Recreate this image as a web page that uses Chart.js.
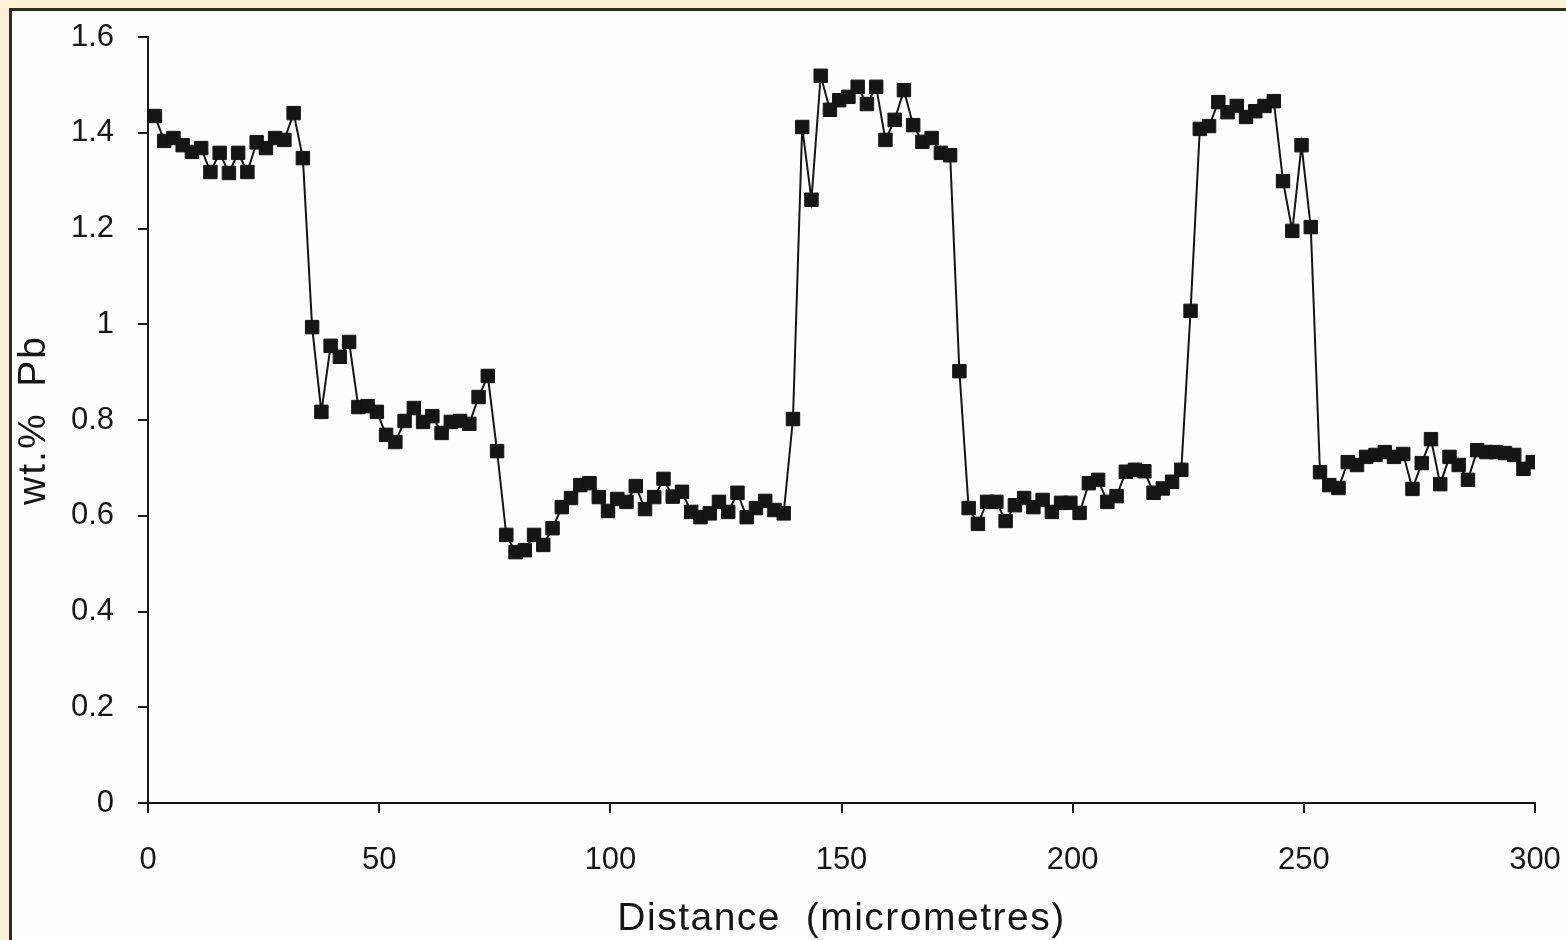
<!DOCTYPE html>
<html>
<head>
<meta charset="utf-8">
<script src="https://cdn.jsdelivr.net/npm/chart.js@4"></script>
<style>
  html, body { margin: 0; padding: 0; background: #fcefd3; }
  #wrap { position: relative; width: 1566px; height: 940px; }
</style>
</head>
<body>
<div id="wrap"><canvas id="profile" width="1566" height="940"></canvas></div>
<script>
// line scan across the grain, one reading every 2 micrometres
var distance = [
	1.5, 3.5, 5.5, 7.5, 9.5, 11.5, 13.5, 15.5, 17.5, 19.5,
	21.5, 23.5, 25.5, 27.5, 29.5, 31.5, 33.5, 35.5, 37.5, 39.5,
	41.5, 43.5, 45.5, 47.5, 49.5, 51.5, 53.5, 55.5, 57.5, 59.5,
	61.5, 63.5, 65.5, 67.5, 69.5, 71.5, 73.5, 75.5, 77.5, 79.5,
	81.5, 83.5, 85.5, 87.5, 89.5, 91.5, 93.5, 95.5, 97.5, 99.5,
	101.5, 103.5, 105.5, 107.5, 109.5, 111.5, 113.5, 115.5, 117.5, 119.5,
	121.5, 123.5, 125.5, 127.5, 129.5, 131.5, 133.5, 135.5, 137.5, 139.5,
	141.5, 143.5, 145.5, 147.5, 149.5, 151.5, 153.5, 155.5, 157.5, 159.5,
	161.5, 163.5, 165.5, 167.5, 169.5, 171.5, 173.5, 175.5, 177.5, 179.5,
	181.5, 183.5, 185.5, 187.5, 189.5, 191.5, 193.5, 195.5, 197.5, 199.5,
	201.5, 203.5, 205.5, 207.5, 209.5, 211.5, 213.5, 215.5, 217.5, 219.5,
	221.5, 223.5, 225.5, 227.5, 229.5, 231.5, 233.5, 235.5, 237.5, 239.5,
	241.5, 243.5, 245.5, 247.5, 249.5, 251.5, 253.5, 255.5, 257.5, 259.5,
	261.5, 263.5, 265.5, 267.5, 269.5, 271.5, 273.5, 275.5, 277.5, 279.5,
	281.5, 283.5, 285.5, 287.5, 289.5, 291.5, 293.5, 295.5, 297.5, 299.5
];

var pbWt = [
	1.435, 1.383, 1.389, 1.374, 1.360, 1.368, 1.318, 1.358, 1.316, 1.358,
	1.318, 1.380, 1.368, 1.389, 1.385, 1.441, 1.347, 0.994, 0.817, 0.955,
	0.932, 0.963, 0.827, 0.829, 0.817, 0.769, 0.754, 0.798, 0.825, 0.796,
	0.808, 0.773, 0.796, 0.798, 0.792, 0.848, 0.892, 0.735, 0.560, 0.524,
	0.528, 0.560, 0.539, 0.574, 0.618, 0.637, 0.664, 0.668, 0.639, 0.610,
	0.635, 0.629, 0.662, 0.614, 0.639, 0.677, 0.640, 0.650, 0.608, 0.597,
	0.605, 0.629, 0.608, 0.648, 0.597, 0.616, 0.631, 0.612, 0.605, 0.802,
	1.412, 1.260, 1.519, 1.448, 1.468, 1.475, 1.496, 1.460, 1.496, 1.385,
	1.427, 1.489, 1.416, 1.381, 1.389, 1.358, 1.353, 0.902, 0.616, 0.583,
	0.629, 0.629, 0.589, 0.622, 0.637, 0.618, 0.633, 0.608, 0.627, 0.627,
	0.606, 0.668, 0.675, 0.629, 0.641, 0.692, 0.696, 0.693, 0.648, 0.657,
	0.671, 0.696, 1.028, 1.408, 1.414, 1.464, 1.443, 1.456, 1.433, 1.445,
	1.456, 1.466, 1.299, 1.195, 1.374, 1.203, 0.691, 0.664, 0.658, 0.712,
	0.706, 0.723, 0.727, 0.733, 0.723, 0.729, 0.656, 0.710, 0.760, 0.666,
	0.723, 0.706, 0.675, 0.737, 0.733, 0.733, 0.731, 0.727, 0.698, 0.712
];

var xTicks = [0, 50, 100, 150, 200, 250, 300];
var yTicks = [0, 0.2, 0.4, 0.6, 0.8, 1, 1.2, 1.4, 1.6];
var yTickLabels = ['0', '0.2', '0.4', '0.6', '0.8', '1', '1.2', '1.4', '1.6'];
var xTitle = 'Distance  (micrometres)';
var yTitle = 'wt.%  Pb';

var INK = '#151515';
var FONT = "'Liberation Sans', Arial, sans-serif";

// beige surround with the white plotting card on top
const paperFrame = {
	id: 'paperFrame',
	beforeDraw(chart) {
		const ctx = chart.ctx;
		ctx.save();
		ctx.fillStyle = '#fcefd3';
		ctx.fillRect(0, 0, chart.width, chart.height);
		ctx.fillStyle = '#fefefe';
		ctx.fillRect(10, 9, chart.width + 10, chart.height + 10);
		ctx.strokeStyle = '#2a2a2a';
		ctx.lineWidth = 3;
		ctx.strokeRect(10.5, 9.5, chart.width + 10, chart.height + 10);
		ctx.restore();
	}
};

// axis titles drawn by hand so they can be letter-spaced
const spacedTitles = {
	id: 'spacedTitles',
	afterDraw(chart) {
		const {ctx, chartArea: {left, right, top, bottom}} = chart;
		ctx.save();
		ctx.fillStyle = INK;
		ctx.textAlign = 'center';
		ctx.textBaseline = 'middle';
		ctx.font = '39px ' + FONT;
		ctx.letterSpacing = '1.5px';
		ctx.fillText(xTitle, (left + right) / 2, 919);
		ctx.translate(34, (top + bottom) / 2);
		ctx.rotate(-Math.PI / 2);
		ctx.letterSpacing = '2px';
		ctx.fillText(yTitle, 0, 0);
		ctx.restore();
	}
};

var points = distance.map(function(d, i) { return {x: d, y: pbWt[i]}; });

var chart = new Chart(document.getElementById('profile'), {
	type: 'line',
	data: {
		datasets: [{
			label: 'Pb',
			data: points,
			borderColor: INK,
			backgroundColor: INK,
			borderWidth: 2,
			pointStyle: 'rect',
			pointRadius: 9.5,
			pointBorderWidth: 1,
			tension: 0,
		}]
	},
	options: {
		responsive: false,
		animation: false,
		layout: {
			padding: {left: 0, right: 31, top: 37, bottom: 0}
		},
		scales: {
			x: {
				type: 'linear',
				min: 0,
				max: 300,
				afterBuildTicks: function(scale) {
					scale.ticks = xTicks.map(function(v) { return {value: v}; });
				},
				afterFit: function(scale) {
					scale.height = 137;
					scale.paddingLeft = 0;
					scale.paddingRight = 0;
				},
				border: {display: true, color: INK, width: 2},
				grid: {drawOnChartArea: false, drawTicks: true, tickLength: 10, color: INK, lineWidth: 2},
				ticks: {
					color: INK,
					font: {family: FONT, size: 31},
					padding: 29,
					maxRotation: 0,
					callback: function(v) { return String(v); }
				}
			},
			y: {
				min: 0,
				max: 1.6,
				afterBuildTicks: function(scale) {
					scale.ticks = yTicks.map(function(v) { return {value: v}; });
				},
				afterFit: function(scale) {
					scale.width = 148;
					scale.paddingTop = 0;
					scale.paddingBottom = 0;
				},
				border: {display: true, color: INK, width: 2},
				grid: {drawOnChartArea: false, drawTicks: true, tickLength: 10, color: INK, lineWidth: 2},
				ticks: {
					color: INK,
					font: {family: FONT, size: 31},
					padding: 24,
					callback: function(v) { return yTickLabels[yTicks.indexOf(+v.toFixed(1))]; }
				}
			}
		},
		plugins: {
			legend: {display: false},
			tooltip: {enabled: false}
		}
	},
	plugins: [paperFrame, spacedTitles]
});
</script>
</body>
</html>
